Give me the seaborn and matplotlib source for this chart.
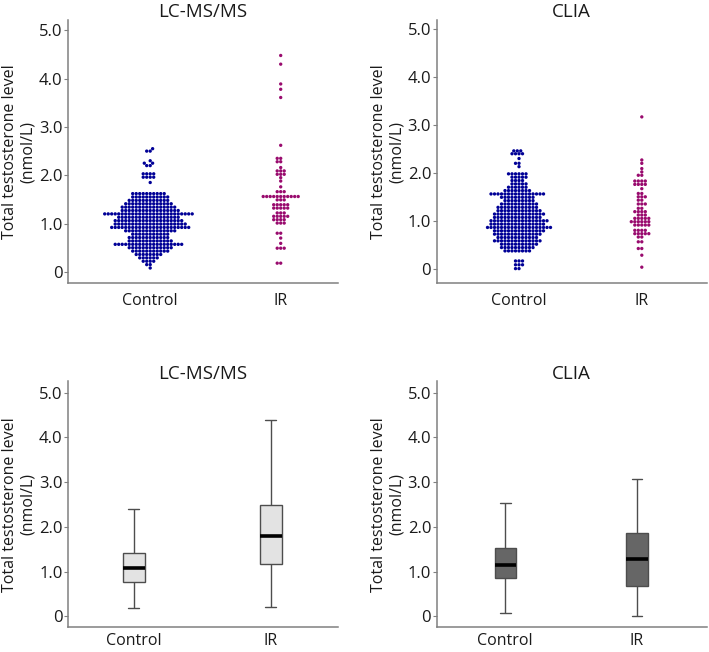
import numpy as np
import pandas as pd
import matplotlib
matplotlib.use("Agg")
import matplotlib.pyplot as plt
import seaborn as sns

# --- data (value levels and number of dots per level) ---
groups = ["Control", "IR"]

lc_ctrl_levels = [2.55, 2.50, 2.30, 2.25, 2.20, 2.03, 1.96, 1.85,
                  1.62, 1.55, 1.48, 1.41, 1.34, 1.27, 1.20, 1.13, 1.06, 0.99, 0.92, 0.85,
                  0.78, 0.71, 0.64, 0.57, 0.50, 0.43, 0.36, 0.29, 0.22, 0.15, 0.08]
lc_ctrl_counts = [1, 2, 1, 2, 2, 4, 4, 1,
                  10, 11, 12, 14, 16, 17, 26, 18, 20, 21, 23, 15,
                  11, 12, 13, 20, 13, 11, 8, 6, 4, 2, 1]

lc_ir_levels = [4.48, 4.30, 3.89, 3.78, 3.61, 2.62, 2.35, 2.28, 2.16, 2.09, 2.02, 1.95, 1.88,
                1.76, 1.66, 1.56, 1.49, 1.39, 1.32, 1.22, 1.15, 1.08, 1.01, 0.80, 0.70, 0.59,
                0.49, 0.18]
lc_ir_counts = [1, 1, 1, 1, 1, 1, 2, 2, 1, 3, 3, 1, 1,
                1, 3, 11, 3, 5, 5, 3, 5, 4, 3, 2, 1, 1,
                3, 2]

clia_ctrl_levels = [2.46, 2.40, 2.30, 2.20, 2.13,
                    1.98, 1.91, 1.84, 1.77, 1.70, 1.63, 1.56, 1.49, 1.42, 1.35, 1.28, 1.21,
                    1.14, 1.07, 1.00, 0.93, 0.86, 0.79, 0.72, 0.65, 0.58, 0.51, 0.44, 0.37,
                    0.16, 0.08, 0.00]
clia_ctrl_counts = [3, 4, 1, 2, 1,
                    6, 5, 4, 5, 6, 8, 16, 10, 9, 11, 12, 13,
                    15, 14, 17, 16, 19, 15, 14, 12, 14, 11, 10, 8,
                    3, 3, 2]

clia_ir_levels = [3.17, 2.27, 2.20, 2.09, 2.02, 1.95, 1.83, 1.76, 1.67, 1.57, 1.50, 1.43, 1.35,
                  1.26, 1.19, 1.12, 1.05, 0.98, 0.91, 0.80, 0.73, 0.66, 0.56, 0.42, 0.28, 0.03]
clia_ir_counts = [1, 1, 1, 1, 1, 2, 4, 4, 1, 2, 3, 2, 3,
                  2, 4, 3, 5, 6, 5, 4, 5, 2, 2, 2, 1, 1]

# five-number summaries of the box plots: min, Q1, median, Q3, max
lc_box_ctrl = [0.18, 0.76, 1.09, 1.41, 2.40]
lc_box_ir = [0.21, 1.17, 1.80, 2.48, 4.39]
clia_box_ctrl = [0.07, 0.85, 1.14, 1.52, 2.53]
clia_box_ir = [0.00, 0.69, 1.28, 1.875, 3.08]

dot_colors = {"Control": "#000096", "IR": "#990b6e"}
ytick_vals = [0, 1, 2, 3, 4, 5]
ytick_labels = ["0", "1.0", "2.0", "3.0", "4.0", "5.0"]


def swarm_frame(ctrl_lv, ctrl_n, ir_lv, ir_n):
    ctrl = np.repeat(ctrl_lv, ctrl_n)
    ir = np.repeat(ir_lv, ir_n)
    return pd.DataFrame({"group": ["Control"] * len(ctrl) + ["IR"] * len(ir),
                         "value": np.concatenate([ctrl, ir])})


def box_frame(ctrl, ir):
    return pd.DataFrame({"group": ["Control"] * len(ctrl) + ["IR"] * len(ir),
                         "value": ctrl + ir})


sns.set_style("white")
plt.rcParams["font.family"] = ["Open Sans", "DejaVu Sans"]

fig = plt.figure(figsize=(7.09, 6.52), dpi=100)

# axes rectangles in figure fractions
ax_tl = fig.add_axes([0.0959, 0.566, 0.381, 0.403])
ax_tr = fig.add_axes([0.616, 0.566, 0.381, 0.403])
ax_bl = fig.add_axes([0.0959, 0.038, 0.381, 0.377])
ax_br = fig.add_axes([0.616, 0.038, 0.381, 0.377])


def style_axes(ax, title, xlim, ylim, xpad=7):
    ax.set_xlim(*xlim)
    ax.set_ylim(*ylim)
    ax.set_yticks(ytick_vals)
    ax.set_yticklabels(ytick_labels)
    ax.set_title(title, fontsize=13.5, pad=2, color="#1a1a1a")
    ax.set_xlabel("")
    ax.set_ylabel("Total testosterone level\n(nmol/L)", fontsize=11.5, labelpad=2,
                  color="#1a1a1a", linespacing=1.15)
    for side in ["top", "right"]:
        ax.spines[side].set_visible(False)
    for side in ["left", "bottom"]:
        ax.spines[side].set_color("#808080")
        ax.spines[side].set_linewidth(1.1)
    ax.tick_params(axis="y", left=True, length=3, width=0.8, color="#808080",
                   labelsize=12, labelcolor="#1a1a1a", pad=1)
    ax.tick_params(axis="x", bottom=False, length=0, labelsize=11.5,
                   labelcolor="#1a1a1a", pad=xpad)
    ax.grid(False)


# --- swarm plots ---
lc_df = swarm_frame(lc_ctrl_levels, lc_ctrl_counts, lc_ir_levels, lc_ir_counts)
clia_df = swarm_frame(clia_ctrl_levels, clia_ctrl_counts, clia_ir_levels, clia_ir_counts)

sns.swarmplot(data=lc_df, x="group", y="value", hue="group", order=groups,
              palette=dot_colors, size=2.4, linewidth=0, legend=False, ax=ax_tl)
style_axes(ax_tl, "LC-MS/MS", (-0.63, 1.44), (-0.23, 5.21))

sns.swarmplot(data=clia_df, x="group", y="value", hue="group", order=groups,
              palette=dot_colors, size=2.4, linewidth=0, legend=False, ax=ax_tr)
style_axes(ax_tr, "CLIA", (-0.67, 1.53), (-0.30, 5.19))

# --- box plots ---
box_kws = dict(x="group", y="value", order=groups, whis=(0, 100), width=0.16,
               saturation=1, linecolor="#4d4d4d", linewidth=1.0,
               medianprops=dict(color="black", linewidth=2.6))

sns.boxplot(data=box_frame(lc_box_ctrl, lc_box_ir), color="#e3e3e3", ax=ax_bl, **box_kws)
style_axes(ax_bl, "LC-MS/MS", (-0.48, 1.49), (-0.24, 5.25), xpad=4)

sns.boxplot(data=box_frame(clia_box_ctrl, clia_box_ir), color="#666666", ax=ax_br, **box_kws)
style_axes(ax_br, "CLIA", (-0.52, 1.53), (-0.24, 5.25), xpad=4)

fig.savefig("out.png", dpi=100, facecolor="white")
